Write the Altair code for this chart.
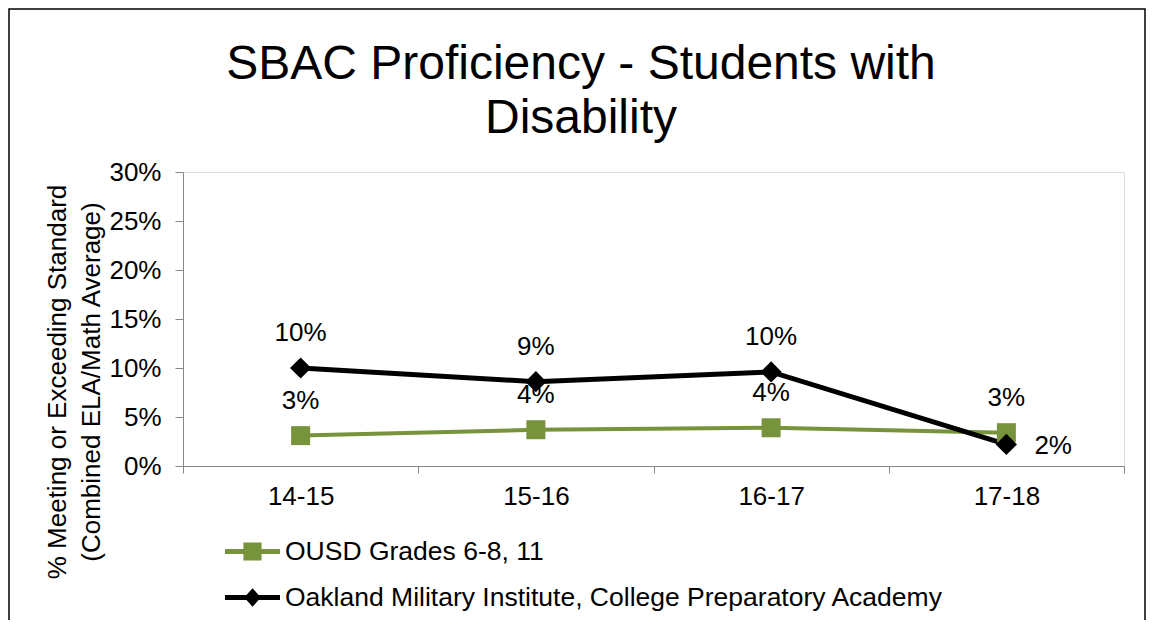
import altair as alt
import pandas as pd

periods = ["14-15", "15-16", "16-17", "17-18"]
series_names = ["OUSD Grades 6-8, 11", "Oakland Military Institute, College Preparatory Academy"]
ousd = [0.031, 0.037, 0.039, 0.034]
omi = [0.100, 0.086, 0.096, 0.022]
colors = ["#77933C", "#000000"]
y_ticks = [0, 0.05, 0.10, 0.15, 0.20, 0.25, 0.30]
title_lines = ["SBAC Proficiency - Students with", "Disability"]
y_title_lines = ["% Meeting or Exceeding Standard", "(Combined ELA/Math Average)"]

rows = []
for i, p in enumerate(periods):
    rows.append({"period": p, "series": series_names[0], "value": ousd[i]})
for i, p in enumerate(periods):
    rows.append({"period": p, "series": series_names[1], "value": omi[i]})
df = pd.DataFrame(rows)

W, H = 941, 294
PL, PT = 175, 164
PR = 1138 - PL - W
PB = 612 - PT - H
FONT = "Liberation Sans"
FS = 26
AX = "#868686"

x_enc = alt.X("period:N", sort=periods,
              scale=alt.Scale(type="band", paddingInner=0, paddingOuter=0, domain=periods),
              axis=alt.Axis(title=None, tickBand="extent", labelFontSize=FS, labelFont=FONT,
                            labelColor="#000000", labelPadding=10, domainColor=AX,
                            tickColor=AX, tickSize=7, labelAngle=0, grid=False))
y_enc = alt.Y("value:Q",
              scale=alt.Scale(domain=[0, 0.30], nice=False),
              axis=alt.Axis(values=y_ticks, format=".0%", labelFontSize=FS, labelFont=FONT,
                            labelColor="#000000", labelPadding=14, domainColor=AX,
                            tickColor=AX, tickSize=8, grid=False, title=None))
color_scale = alt.Scale(domain=series_names, range=colors)

base = alt.Chart(df).encode(x=x_enc, y=y_enc)

lines = base.mark_line().encode(
    color=alt.Color("series:N", scale=color_scale, legend=None),
    strokeWidth=alt.StrokeWidth("series:N", scale=alt.Scale(domain=series_names, range=[4, 5]), legend=None),
)
points = base.mark_point(filled=True, opacity=1).encode(
    color=alt.Color("series:N", scale=color_scale, legend=None),
    shape=alt.Shape("series:N", scale=alt.Scale(domain=series_names, range=["square", "diamond"]), legend=None),
    size=alt.Size("series:N", scale=alt.Scale(domain=series_names, range=[361, 450]), legend=None),
)

is_right = "datum.series == '%s' && datum.period == '17-18'" % series_names[1]
labels_above = base.transform_filter("!(" + is_right + ")").mark_text(
    dy=-35, fontSize=FS, font=FONT, color="#000000"
).encode(text=alt.Text("value:Q", format=".0%"))
labels_right = base.transform_filter(is_right).mark_text(
    dx=28, dy=2, align="left", fontSize=FS, font=FONT, color="#000000"
).encode(text=alt.Text("value:Q", format=".0%"))

path_sq = "M-1,-0.09H1V0.09H-1Z M-0.33,-0.33H0.33V0.33H-0.33Z"
path_di = "M-1,-0.09H1V0.09H-1Z M0,-0.34L0.3,0L0,0.34L-0.3,0Z"
LFS = 26.5


def legend_layer(name, color, path, ly):
    return alt.Chart(df).transform_filter("false").mark_point(
        filled=True, opacity=1, color=color, strokeWidth=0
    ).encode(
        shape=alt.Shape("series:N", scale=alt.Scale(domain=[name], range=[path]),
                        legend=alt.Legend(orient="none", legendX=42, legendY=ly, title=None,
                                          labelFontSize=LFS, labelFont=FONT, labelColor="#000000",
                                          symbolSize=3025, labelOffset=5, symbolFillColor=color,
                                          symbolStrokeWidth=0, labelLimit=1000, padding=0))
    )


leg1 = legend_layer(series_names[0], colors[0], path_sq, 352)
leg2 = legend_layer(series_names[1], colors[1], path_di, 398)

one = pd.DataFrame({"k": [0]})
title = alt.Chart(one).mark_text(
    text=title_lines, fontSize=48, font=FONT, color="#000000", align="center",
    baseline="alphabetic", lineHeight=54
).encode(x=alt.value(398), y=alt.value(79 - 172))
ytitle1 = alt.Chart(one).mark_text(
    text=y_title_lines[0], fontSize=FS, font=FONT, color="#000000", align="center",
    baseline="middle", angle=270
).encode(x=alt.value(58 - 183), y=alt.value(210))
ytitle2 = alt.Chart(one).mark_text(
    text=y_title_lines[1], fontSize=FS, font=FONT, color="#000000", align="center",
    baseline="middle", angle=270
).encode(x=alt.value(92 - 183), y=alt.value(210))

border = alt.Chart(one).mark_rect(fill=None, stroke="#000000", strokeWidth=1.5).encode(
    x=alt.value(-PL + 1), x2=alt.value(W + PR - 1), y=alt.value(-PT + 1), y2=alt.value(H + PB + 20)
)

chart = alt.layer(border, title, ytitle1, ytitle2, lines, labels_above, labels_right, points,
                  leg1, leg2).resolve_scale(
    shape="independent", size="independent"
).properties(
    width=W, height=H,
    autosize=alt.AutoSizeParams(type="none"),
    padding={"left": PL, "top": PT, "right": PR, "bottom": PB},
).configure_view(stroke=None).configure(background="#ffffff")

chart.save("out.html", embed_options={"renderer": "svg", "actions": False})
